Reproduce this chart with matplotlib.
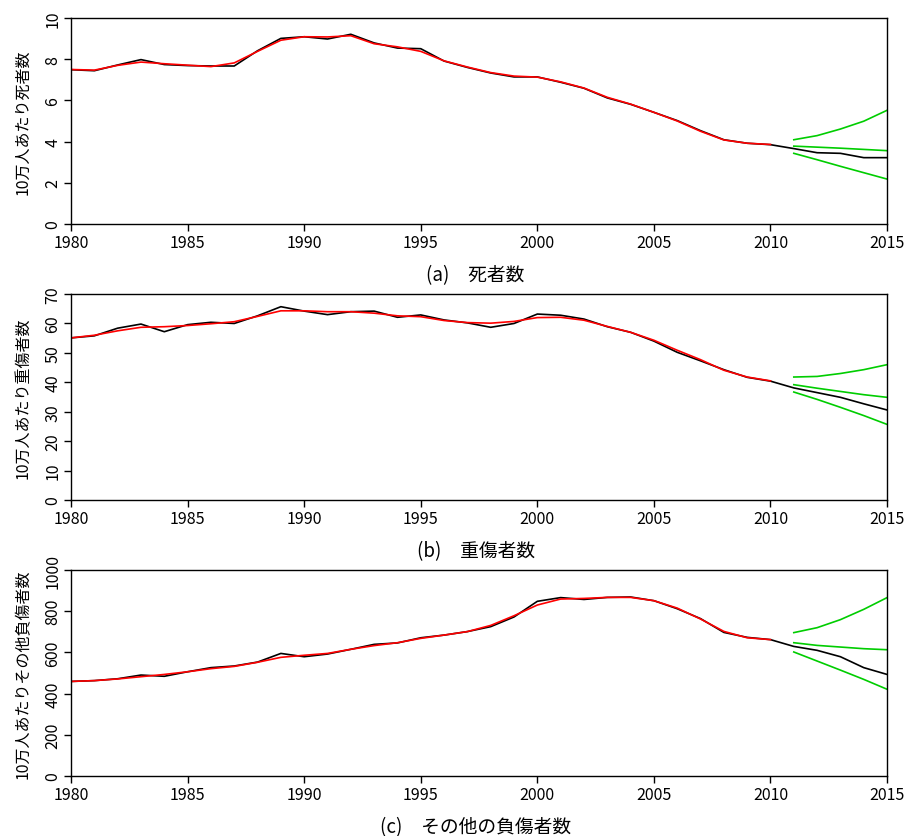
import matplotlib
matplotlib.use('Agg')
import matplotlib.pyplot as plt
import numpy as np

plt.rcParams['font.family'] = ['Liberation Sans Narrow', 'Noto Sans CJK JP', 'DejaVu Sans']

years = list(range(1980, 2016))
years_fit = list(range(1980, 2011))
years_pred = list(range(2011, 2016))

# (a) deaths per 100k
death_obs = [7.49, 7.44, 7.72, 7.98, 7.74, 7.69, 7.67, 7.67, 8.41, 9.01,
             9.09, 8.98, 9.21, 8.79, 8.54, 8.51, 7.91, 7.60, 7.33, 7.14,
             7.14, 6.88, 6.59, 6.12, 5.81, 5.42, 5.02, 4.53, 4.09, 3.92,
             3.85, 3.66, 3.46, 3.43, 3.22, 3.22]
death_fit = [7.50, 7.47, 7.70, 7.86, 7.78, 7.71, 7.64, 7.82, 8.38, 8.92,
             9.09, 9.08, 9.14, 8.75, 8.60, 8.38, 7.92, 7.62, 7.35, 7.18,
             7.13, 6.90, 6.60, 6.15, 5.82, 5.42, 5.00, 4.50, 4.08, 3.92,
             3.86]
death_up = [4.09, 4.29, 4.61, 4.99, 5.52]
death_mid = [3.78, 3.73, 3.68, 3.62, 3.56]
death_lo = [3.43, 3.12, 2.80, 2.49, 2.18]

# (b) serious injuries per 100k
serious_obs = [55.1, 55.8, 58.4, 59.8, 57.2, 59.6, 60.4, 60.0, 62.6, 65.7,
               64.2, 63.0, 64.0, 64.2, 62.1, 62.9, 61.2, 60.2, 58.7, 60.0,
               63.2, 62.8, 61.5, 58.9, 57.0, 54.0, 50.2, 47.3, 44.3, 41.7,
               40.4, 38.1, 36.5, 34.9, 32.7, 30.6]
serious_fit = [55.1, 56.0, 57.5, 58.7, 58.9, 59.3, 59.9, 60.6, 62.4, 64.3,
               64.3, 64.0, 64.0, 63.5, 62.6, 62.3, 61.0, 60.3, 60.1, 60.7,
               62.0, 62.1, 61.1, 59.0, 57.0, 54.3, 50.9, 47.7, 44.1, 41.8,
               40.5]
serious_up = [41.8, 42.0, 43.0, 44.3, 46.0]
serious_mid = [39.2, 38.0, 36.9, 35.8, 34.9]
serious_lo = [36.7, 34.2, 31.5, 28.7, 25.7]

# (c) other injuries per 100k
other_obs = [459, 463, 472, 490, 484, 506, 526, 534, 553, 595,
             579, 592, 615, 639, 646, 671, 684, 701, 725, 772,
             848, 866, 857, 867, 869, 851, 812, 764, 697, 673,
             662, 629, 610, 579, 526, 493]
other_fit = [459, 463, 471, 482, 493, 506, 521, 532, 552, 576,
             586, 595, 615, 633, 647, 668, 684, 701, 731, 778,
             830, 859, 862, 867, 867, 851, 815, 762, 702, 671,
             662]
other_up = [696, 720, 759, 809, 866]
other_mid = [647, 634, 626, 618, 613]
other_lo = [602, 558, 514, 469, 421]

panels = [
    (death_obs, death_fit, death_up, death_mid, death_lo, 10, np.arange(0, 11, 2),
     '10万人あたり死者数', '(a)　死者数'),
    (serious_obs, serious_fit, serious_up, serious_mid, serious_lo, 70, np.arange(0, 71, 10),
     '10万人あたり重傷者数', '(b)　重傷者数'),
    (other_obs, other_fit, other_up, other_mid, other_lo, 1000, np.arange(0, 1001, 200),
     '10万人あたりその他負傷者数', '(c)　その他の負傷者数'),
]

fig = plt.figure(figsize=(9.06, 8.37), dpi=100)
bottoms = [0.7312, 0.4014, 0.0717]
green = '#00CD00'
jp = ['Noto Sans CJK JP', 'DejaVu Sans']

for (obs, fit, up, mid, lo, ymax, yt, ylab, cap), b in zip(panels, bottoms):
    ax = fig.add_axes([0.0784, b, 0.9007, 0.2461])
    ax.plot(years, obs, color='black', lw=1.2)
    ax.plot(years_fit, fit, color='red', lw=1.2)
    for s in (up, mid, lo):
        ax.plot(years_pred, s, color=green, lw=1.2)
    ax.set_xlim(1980, 2015)
    ax.set_ylim(0, ymax)
    ax.set_xticks(range(1980, 2016, 5))
    ax.set_yticks(yt)
    ax.tick_params(direction='out', length=5, width=1, labelsize=11.5, pad=2)
    ax.tick_params(axis='y', labelrotation=90)
    for lbl in ax.get_yticklabels():
        lbl.set_verticalalignment('center')
    for sp in ax.spines.values():
        sp.set_linewidth(1)
    ax.set_ylabel(ylab, fontsize=11.5, family=jp, labelpad=9)
    fig.text(0.525, b - 0.06, cap, ha='center', va='center', fontsize=13.5, family=jp)

fig.savefig('out.png', dpi=100)
